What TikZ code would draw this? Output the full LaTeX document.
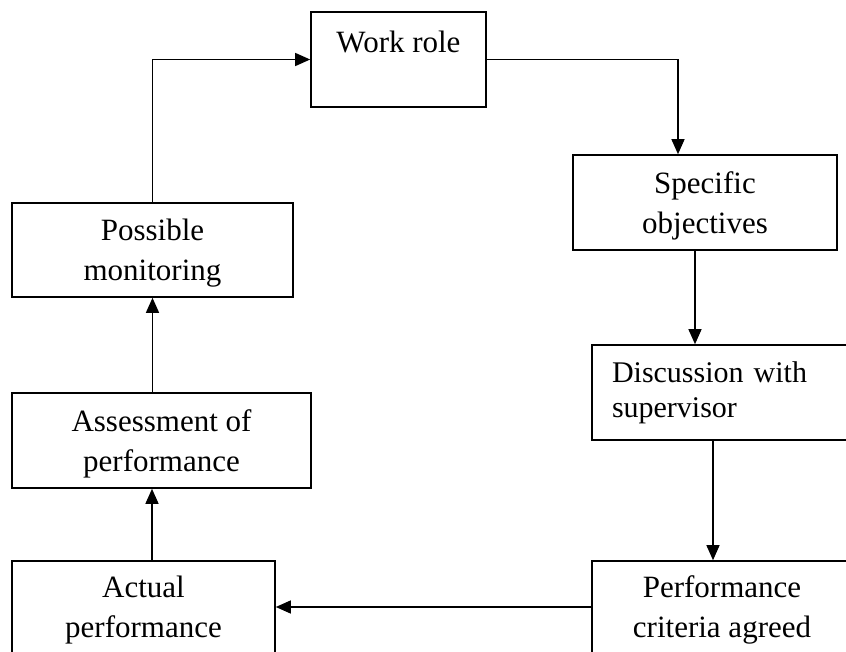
\documentclass[tikz,border=0pt]{standalone}
\usepackage{fontspec}
\setmainfont{Liberation Serif}
\usetikzlibrary{arrows.meta}
\begin{document}
\begin{tikzpicture}[x=1pt,y=-1pt,
    box/.style={rectangle,draw,line width=1.6pt,align=center,text depth=0pt,
      font=\fontsize{31}{40}\selectfont},
    arr/.style={line width=1.3pt,-{Triangle[length=15pt,width=13pt]}}]
  \useasboundingbox (0,0) rectangle (846,652);
  \clip (0,0) rectangle (846,652);
  \node[box,minimum width=175pt,minimum height=95pt,text depth=36pt] (work) at(398.5,59.5) {Work role};
  \node[box,minimum width=264pt,minimum height=95pt] (specific) at(705,202.5) {Specific\\objectives};
  \node[box,text width=238pt,inner xsep=20pt,minimum height=95pt,align=left,text depth=,
    font=\fontsize{30}{35}\selectfont] (discuss) at(731,392.5) {Discussion with\\supervisor};
  \node[box,minimum width=260pt,minimum height=92pt] (criteria) at(722,607) {Performance\\criteria agreed};
  \node[box,minimum width=263pt,minimum height=92pt] (actual) at(143.5,607) {Actual\\performance};
  \node[box,minimum width=299pt,minimum height=95pt] (assess) at(161.5,440.5) {Assessment of\\performance};
  \node[box,minimum width=281pt,minimum height=94pt] (monitor) at(152.5,250) {Possible\\monitoring};
  % the loop, clockwise from the work role
  \draw[arr] (work.east) -| ([xshift=-27pt]specific.north);
  \draw[arr] ([xshift=-10pt]specific.south) -- ([xshift=-10pt]specific.south |- discuss.north);
  \draw[arr] ([xshift=-9pt]criteria.north |- discuss.south) -- ([xshift=-9pt]criteria.north);
  \draw[arr] (criteria.west) -- (actual.east);
  \draw[arr] ([xshift=8.5pt]actual.north) -- ([xshift=8.5pt]actual.north |- assess.south);
  \draw[arr] (monitor.south |- assess.north) -- (monitor.south);
  \draw[arr] (monitor.north) |- (work.west);
\end{tikzpicture}
\end{document}
